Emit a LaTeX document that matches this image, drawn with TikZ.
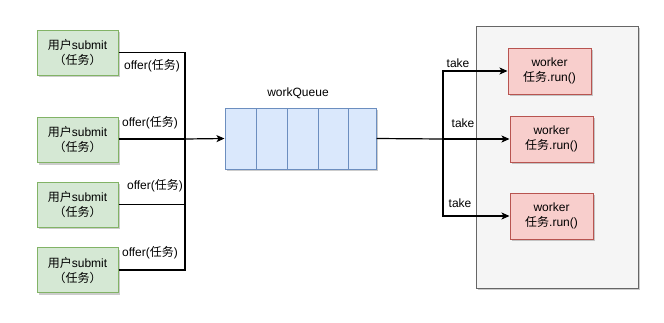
\documentclass[tikz,border=0pt]{standalone}
\usepackage{fontspec}
\setmainfont{Liberation Sans}
\newfontfamily\cjk{Noto Sans CJK SC}
\newcommand{\zh}[1]{{\cjk #1}}
\usetikzlibrary{shadows,arrows.meta}
\definecolor{gfill}{HTML}{D5E8D4}\definecolor{gline}{HTML}{82B366}
\definecolor{bfill}{HTML}{DAE8FC}\definecolor{bline}{HTML}{6C8EBF}
\definecolor{rfill}{HTML}{F8CECC}\definecolor{rline}{HTML}{B85450}
\definecolor{kfill}{HTML}{F5F5F5}\definecolor{kline}{HTML}{666666}
\begin{document}
\begin{tikzpicture}[x=1pt,y=-1pt,
  every node/.style={font=\fontsize{12}{15}\selectfont},
  shad/.style={drop shadow={shadow xshift=2pt,shadow yshift=-2pt,fill=black,opacity=0.2}},
  userbox/.style={draw=gline,fill=gfill,line width=1pt,minimum width=81pt,minimum height=45pt,align=center,inner sep=0pt,shad},
  workbox/.style={draw=rline,fill=rfill,line width=1pt,minimum width=83pt,minimum height=46pt,align=center,inner sep=0pt,shad},
  conn/.style={line width=1.2pt,black},
  arr/.style={conn,-{Stealth[length=8pt,width=7pt,inset=2pt]}},
  lbl/.style={inner sep=0pt}]
\useasboundingbox (0,0) rectangle (664,322);
% container
\node[draw=kline,fill=kfill,line width=1pt,minimum width=162pt,minimum height=262pt,inner sep=0pt,shad] (cont) at (557,157) {};
% users
\node[userbox] (u1) at (77.5,52.5) {\zh{用户}submit\\\zh{（任务）}};
\node[userbox] (u2) at (77.5,140) {\zh{用户}submit\\\zh{（任务）}};
\node[userbox] (u3) at (77.5,204.5) {\zh{用户}submit\\\zh{（任务）}};
\node[userbox] (u4) at (77.5,270) {\zh{用户}submit\\\zh{（任务）}};
% queue
\node[draw=bline,fill=bfill,line width=1pt,minimum width=151pt,minimum height=61pt,inner sep=0pt,shad] (q) at (300.5,138.5) {};
\foreach \xx in {256,287,318,348} \draw[bline,line width=1pt] (\xx,108) -- (\xx,169);
\node[lbl] (ql) at (298,93) {workQueue};
% workers
\node[workbox] (w1) at (549.5,71) {worker\\\zh{任务}.run()};
\node[workbox] (w2) at (551.5,139) {worker\\\zh{任务}.run()};
\node[workbox] (w3) at (551.5,216) {worker\\\zh{任务}.run()};
% junctions
\coordinate (j) at (185,139);
\coordinate (k) at (443,139);
\draw[conn] (u1.east) -| (j);
\draw[conn] (u2.east |- j) -- (j);
\draw[conn] (u3.east) -| (j);
\draw[conn] (u4.east) -| (j);
\draw[arr] (j) -- (q.west);
\draw[conn] (q.east) -- (k);
\draw[arr] (k) |- (w1.west);
\draw[arr] (k) -- (w2.west);
\draw[arr] (k) |- (w3.west);
% labels
\node[lbl] (o1) at (152,66) {offer(\zh{任务})};
\node[lbl] (o2) at (150,123) {offer(\zh{任务})};
\node[lbl] (o3) at (155,186) {offer(\zh{任务})};
\node[lbl] (o4) at (150,253) {offer(\zh{任务})};
\node[lbl] (t1) at (458,63) {take};
\node[lbl] (t2) at (463,123) {take};
\node[lbl] (t3) at (460,203) {take};
\end{tikzpicture}
\end{document}
